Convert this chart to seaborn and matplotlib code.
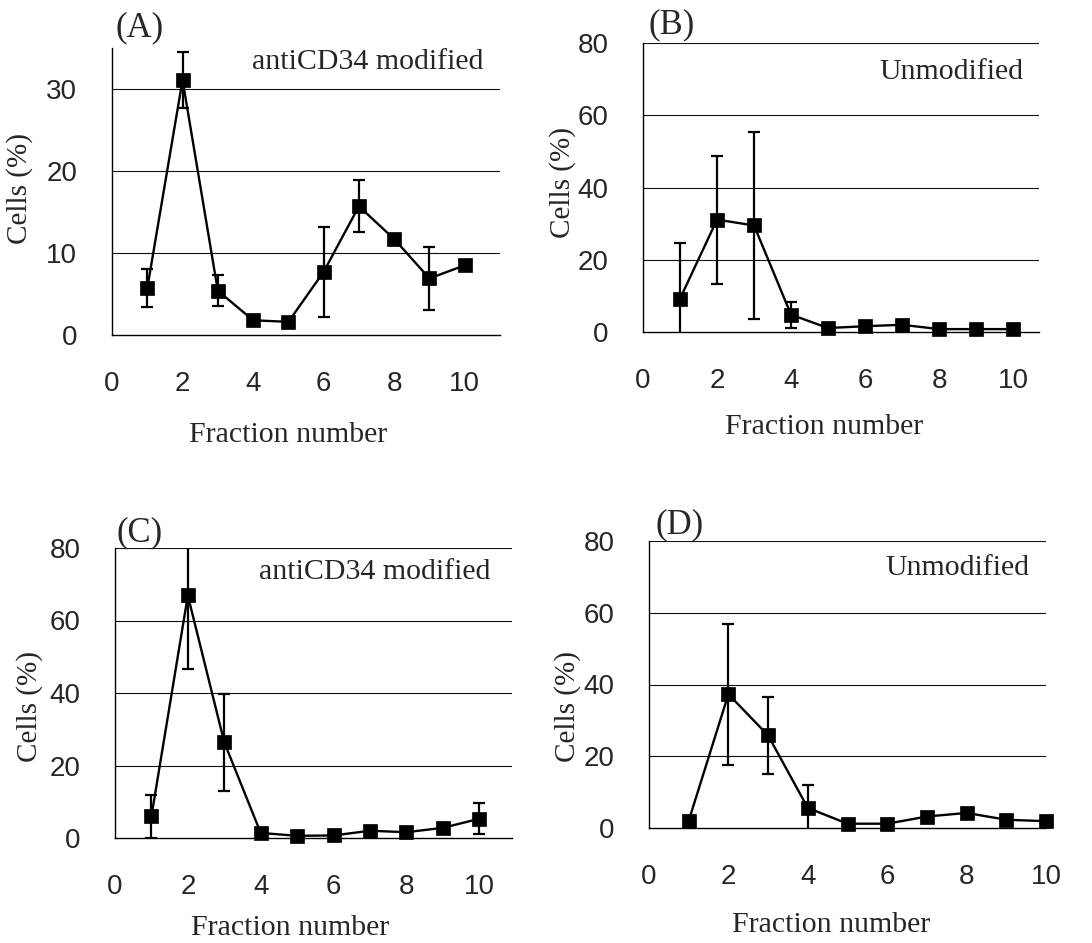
import numpy as np
import pandas as pd
import matplotlib
matplotlib.use("Agg")
import matplotlib.pyplot as plt
import seaborn as sns

# ---------------- data ----------------
fractions = [1, 2, 3, 4, 5, 6, 7, 8, 9, 10]
nan = np.nan

a_mean = [5.7, 31.1, 5.4, 1.8, 1.6, 7.7, 15.7, 11.7, 6.9, 8.5]
a_err = [2.3, 3.4, 1.9, nan, nan, 5.5, 3.2, nan, 3.8, nan]

b_mean = [9.2, 31.1, 29.5, 4.8, 1.1, 1.6, 2.0, 0.8, 0.8, 0.8]
b_err = [15.5, 17.7, 26.0, 3.6, nan, nan, nan, nan, nan, nan]

c_mean = [6.0, 66.9, 26.4, 1.4, 0.6, 0.7, 2.0, 1.6, 2.8, 5.3]
c_err = [6.0, 20.2, 13.3, nan, nan, nan, nan, nan, nan, 4.3]

d_mean = [2.0, 37.3, 25.8, 5.6, 1.2, 1.2, 3.2, 4.2, 2.3, 1.9]
d_err = [nan, 19.7, 10.7, 6.3, nan, nan, nan, nan, nan, nan]

panel_labels = ["(A)", "(B)", "(C)", "(D)"]
conditions = ["antiCD34 modified", "Unmodified", "antiCD34 modified", "Unmodified"]
x_label = "Fraction number"
y_label = "Cells (%)"
x_ticks = [0, 2, 4, 6, 8, 10]
y_ticks_a = [0, 10, 20, 30]
y_ticks_bcd = [0, 20, 40, 60, 80]

# ---------------- style ----------------
sns.set_style("white")
plt.rcParams["font.family"] = ["Liberation Serif", "DejaVu Serif"]

W, H = 1092, 943
fig = plt.figure(figsize=(W / 100, H / 100), dpi=100)

SANS = ["Liberation Sans Narrow", "DejaVu Sans Condensed", "Liberation Sans"]
SERIF = ["Liberation Serif", "DejaVu Serif"]


def px_axes(left, right, top, bottom):
    return [left / W, 1 - bottom / H, (right - left) / W, (bottom - top) / H]


layout = [
    dict(box=(112, 500, 48, 335), xmax=11.0, ymax=35, yt=y_ticks_a, plab=(140, 28), cond=(483, 62), xl=(288, 435), yl=(20, 188)),
    dict(box=(643, 1039, 43, 332), xmax=10.7, ymax=80, yt=y_ticks_bcd, plab=(672, 25), cond=(1023, 72), xl=(824, 427), yl=(563, 182)),
    dict(box=(115, 512, 548, 838), xmax=10.9, ymax=80, yt=y_ticks_bcd, plab=(140, 533), cond=(490, 572), xl=(290, 928), yl=(30, 707)),
    dict(box=(649, 1046, 541, 828), xmax=10.0, ymax=80, yt=y_ticks_bcd, plab=(680, 525), cond=(1029, 568), xl=(831, 925), yl=(568, 706)),
]

means = [a_mean, b_mean, c_mean, d_mean]
errs = [a_err, b_err, c_err, d_err]

for i in range(4):
    L = layout[i]
    ax = fig.add_axes(px_axes(*L["box"]))
    df = pd.DataFrame({"Fraction": fractions, "Cells": means[i], "err": errs[i]})

    ax.errorbar(df["Fraction"], df["Cells"], yerr=df["err"], fmt="none",
                ecolor="black", elinewidth=1.6, capsize=4.5, capthick=1.6, zorder=3)
    sns.lineplot(data=df, x="Fraction", y="Cells", ax=ax, color="black",
                 linewidth=1.7, marker="s", markersize=10.5,
                 markeredgecolor="black", markerfacecolor="black",
                 markeredgewidth=0.5, clip_on=False, zorder=4)

    ax.set_xlim(0, L["xmax"])
    ax.set_ylim(0, L["ymax"])
    ax.set_xticks(x_ticks)
    ax.set_yticks(L["yt"])
    for y in L["yt"][1:]:
        ax.axhline(y, color="#111111", linewidth=0.8, zorder=1)

    for s in ["top", "right"]:
        ax.spines[s].set_visible(False)
    for s in ["left", "bottom"]:
        ax.spines[s].set_color("black")
        ax.spines[s].set_linewidth(1.0)

    ax.tick_params(axis="x", direction="in", length=6, width=1, color="black", pad=26)
    ax.tick_params(axis="y", length=0, pad=25)
    for lab in ax.get_xticklabels() + ax.get_yticklabels():
        lab.set_family(SANS)
        lab.set_fontsize(20)

    ax.set_xlabel("")
    ax.set_ylabel("")

    fig.text(L["xl"][0] / W, 1 - L["xl"][1] / H, x_label, ha="center", va="center",
             fontsize=21.5, family=SERIF)
    fig.text(L["yl"][0] / W, 1 - L["yl"][1] / H, y_label, ha="center", va="center",
             rotation=90, fontsize=21, family=SERIF)
    fig.text(L["plab"][0] / W, 1 - L["plab"][1] / H, panel_labels[i], ha="center", va="center",
             fontsize=25, family=SERIF)
    fig.text(L["cond"][0] / W, 1 - L["cond"][1] / H, conditions[i], ha="right", va="center",
             fontsize=21.5, family=SERIF)

fig.savefig("out.png", dpi=100, facecolor="white")
